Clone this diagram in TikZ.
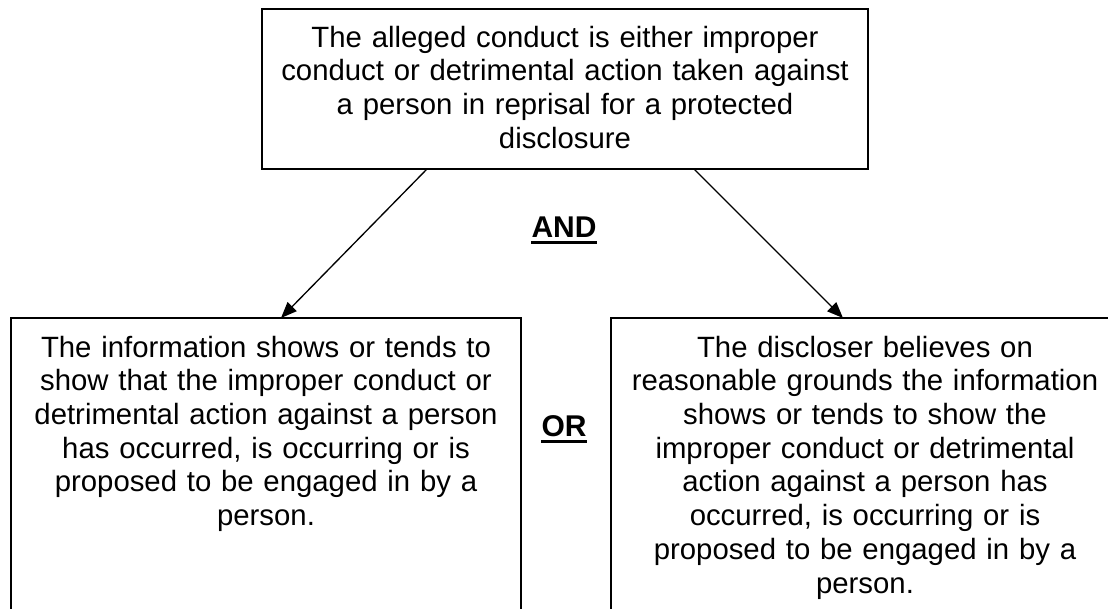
\documentclass[tikz,border=0pt]{standalone}
\usepackage{fontspec}
\setmainfont{Liberation Sans}
\usetikzlibrary{arrows.meta}
\tikzset{
  box/.style={draw=black, line width=1.4pt, inner sep=0pt, fill=none},
  body/.style={inner sep=0pt, align=center, anchor=base, font={\fontsize{22pt}{25.3pt}\selectfont}},
  lbl/.style={inner sep=0pt, anchor=base, font={\fontsize{22.5pt}{25.3pt}\selectfont\bfseries}},
  arr/.style={line width=1pt, -{Triangle[length=12pt,width=9.5pt]}},
  ul/.style={line width=2.3pt}
}
\begin{document}
\begin{tikzpicture}[x=0.75pt,y=-0.75pt]
\useasboundingbox (0,0) rectangle (1108,608);
\fill[white] (0,0) rectangle (1108,608);
\clip (0,0) rectangle (1108,608);
% boxes
\node[box, minimum width=454.5pt, minimum height=120pt] (top) at (565,89) {};
\node[box, minimum width=382.5pt, minimum height=226.5pt] (left) at (266,469) {};
\node[box, minimum width=381pt, minimum height=226.5pt] (right) at (865,469) {};
% texts
\node[body, text width=450pt] (ttop) at (565,47)
  {The alleged conduct is either improper\\conduct or detrimental action taken against\\a person in reprisal for a protected\\disclosure};
\node[body, text width=380pt] (tleft) at (266,357)
  {The information shows or tends to\\show that the improper conduct or\\detrimental action against a person\\has occurred, is occurring or is\\proposed to be engaged in by a\\person.};
\node[body, text width=380pt] (tright) at (865,357)
  {The discloser believes on\\reasonable grounds the information\\shows or tends to show the\\improper conduct or detrimental\\action against a person has\\occurred, is occurring or is\\proposed to be engaged in by a\\person.};
% labels
\node[lbl] (and) at (564,237) {AND};
\draw[ul] ([yshift=-3.8pt]and.base west) -- ([yshift=-3.8pt]and.base east);
\node[lbl] (or) at (564,436) {OR};
\draw[ul] ([yshift=-3.8pt]or.base west) -- ([yshift=-3.8pt]or.base east);
% connectors
\coordinate (s1) at (427,169);
\coordinate (e1) at (281,318);
\coordinate (s2) at (694,169);
\coordinate (e2) at (843,318);
\draw[arr] (s1) -- (e1);
\draw[arr] (s2) -- (e2);
\end{tikzpicture}
\end{document}
